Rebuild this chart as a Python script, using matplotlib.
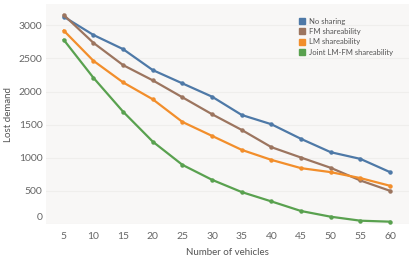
import matplotlib
matplotlib.use("Agg")
import matplotlib.pyplot as plt
import matplotlib.transforms as mtransforms
from matplotlib.lines import Line2D

plt.rcParams['font.family'] = ['Lato', 'DejaVu Sans']

vehicles = [5, 10, 15, 20, 25, 30, 35, 40, 45, 50, 55, 60]
no_sharing = [3130, 2854, 2640, 2324, 2123, 1922, 1646, 1506, 1285, 1084, 983, 783]
fm_share = [3155, 2735, 2399, 2169, 1913, 1657, 1420, 1160, 1003, 848, 657, 501]
lm_share = [2920, 2464, 2138, 1883, 1541, 1330, 1119, 968, 843, 783, 693, 577]
joint_share = [2780, 2208, 1696, 1244, 893, 667, 482, 341, 196, 110, 50, 35]

series = [
    ("No sharing", no_sharing, "#4e79a7"),
    ("FM shareability", fm_share, "#9c755f"),
    ("LM shareability", lm_share, "#f28e2b"),
    ("Joint LM-FM shareability", joint_share, "#59a14f"),
]
yticks = [0, 500, 1000, 1500, 2000, 2500, 3000]

fig = plt.figure(figsize=(4.14, 2.56), dpi=100)
ax = fig.add_axes([0.111, 0.125, 0.877, 0.859])
ax.set_facecolor("#f8f7f6")

for name, vals, col in series:
    ax.plot(vehicles, vals, color=col, lw=1.6, marker='o', ms=2.2, zorder=3)

ax.set_xlim(2, 63.2)
ax.set_ylim(0, 3320)
ax.set_xticks(vehicles)
ax.set_yticks(yticks)
ax.grid(axis='y', color='#efeeec', lw=0.8)
ax.set_axisbelow(True)
for s in ax.spines.values():
    s.set_visible(False)
ax.tick_params(length=0, labelsize=7.5, colors='#666666')
ax.tick_params(axis='x', pad=6)
ax.tick_params(axis='y', pad=2.5)
ax.set_ylabel("Lost demand", fontsize=7, color='#555555', labelpad=4)
ax.set_xlabel("Number of vehicles", fontsize=7, color='#555555', labelpad=5)

# Tableau nudges the zero label up inside the plot
lab0 = ax.get_yticklabels()[0]
lab0.set_transform(lab0.get_transform() + mtransforms.ScaledTranslation(0, 7 / 100, fig.dpi_scale_trans))

handles = [Line2D([], [], ls='none', marker='s', ms=5, color=c) for _, _, c in series]
ax.legend(handles, [n for n, _, _ in series], loc='upper right', bbox_to_anchor=(0.975, 0.97),
          fontsize=5.5, frameon=False, handlelength=0.8, handletextpad=0.5,
          labelspacing=0.45, labelcolor='#555555')

fig.savefig("out.png", dpi=100)
